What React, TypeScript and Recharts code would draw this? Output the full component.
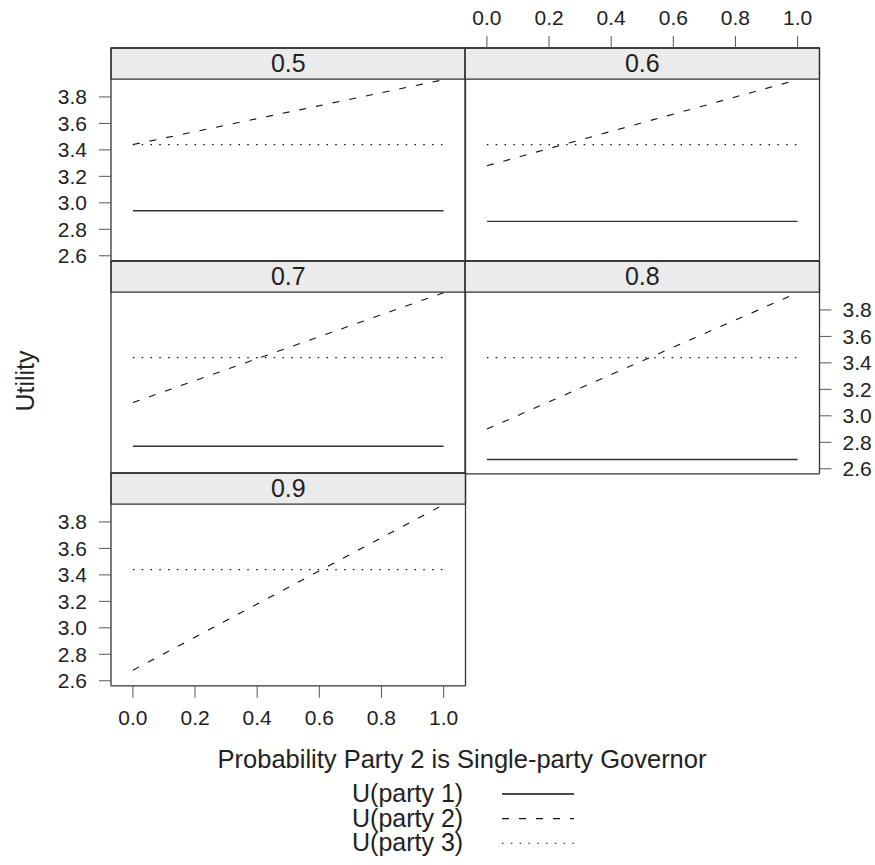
import { LineChart, Line, XAxis, YAxis, ReferenceArea } from "recharts";

// panels (conditioning variable), x range and series values
const panelLabels = ["0.5", "0.6", "0.7", "0.8", "0.9"];
const xValues = [0, 1];
const party1 = [2.94, 2.86, 2.77, 2.67, 2.55];
const party2Start = [3.44, 3.28, 3.1, 2.9, 2.68];
const party2End = [3.93, 3.93, 3.93, 3.93, 3.93];
const party3 = [3.44, 3.44, 3.44, 3.44, 3.44];
const xTicks = [0, 0.2, 0.4, 0.6, 0.8, 1.0];
const yTicks = [2.6, 2.8, 3.0, 3.2, 3.4, 3.6, 3.8];
const seriesNames = ["U(party 1)", "U(party 2)", "U(party 3)"];

const FONT = "'Liberation Sans', Arial, Helvetica, sans-serif";
const INK = "#222";
const FRAME = "#333";
const TICK = "#555";

// layout
const COL_X = [110.7, 465];
const ROW_Y = [47.7, 260.5, 473.3];
const PW = 354.5;
const STRIP_H = 31.2;
const PANEL_H = 181.6;
const AX = 60;

const X_DOMAIN: [number, number] = [-0.0705, 1.0705];
const Y_LO = 2.562;
const Y_HI = 3.934;
const Y_STRIP = Y_HI + ((Y_HI - Y_LO) * STRIP_H) / PANEL_H;

const DASH = "7 10";
const DOT = "1.5 7.3";

type Mode = "label" | "tick" | "none";
type PanelAxes = { left: Mode; right: Mode; top: Mode; bottom: Mode };

const layout: { row: number; col: number; axes: PanelAxes }[] = [
  { row: 0, col: 0, axes: { left: "label", right: "none", top: "tick", bottom: "none" } },
  { row: 0, col: 1, axes: { left: "none", right: "tick", top: "label", bottom: "none" } },
  { row: 1, col: 0, axes: { left: "tick", right: "none", top: "none", bottom: "none" } },
  { row: 1, col: 1, axes: { left: "none", right: "label", top: "none", bottom: "none" } },
  { row: 2, col: 0, axes: { left: "label", right: "tick", top: "none", bottom: "label" } },
];

const TICK_FS = 21;

function TickLabel(props: any) {
  const { x, y, payload, textAnchor, verticalAnchor } = props;
  const dy = verticalAnchor === "start" ? "0.72em" : verticalAnchor === "middle" ? "0.36em" : "0";
  return (
    <text x={x} y={y} dy={dy} textAnchor={textAnchor} fontSize={TICK_FS} fill={INK} fontFamily={FONT}>
      {Number(payload.value).toFixed(1)}
    </text>
  );
}

function axisProps(mode: Mode) {
  return {
    axisLine: { stroke: FRAME, strokeWidth: 1.3 },
    tickLine: mode === "none" ? false : { stroke: TICK, strokeWidth: 1 },
    tick: mode === "label" ? TickLabel : false,
    tickSize: 12,
    interval: 0 as const,
    allowDataOverflow: true,
  };
}

function Panel({ i }: { i: number }) {
  const { row, col, axes } = layout[i];
  const data = xValues.map((x, k) => ({
    x,
    p1: party1[i],
    p2: k === 0 ? party2Start[i] : party2End[i],
    p3: party3[i],
  }));
  const h = STRIP_H + PANEL_H;
  return (
    <div style={{ position: "absolute", left: COL_X[col] - AX, top: ROW_Y[row] - AX }}>
      <LineChart
        width={PW + 2 * AX}
        height={h + 2 * AX}
        data={data}
        margin={{ top: 0, right: 0, bottom: 0, left: 0 }}
      >
        <XAxis xAxisId="b" orientation="bottom" dataKey="x" type="number" domain={X_DOMAIN}
          ticks={xTicks} height={AX} tickMargin={12} {...axisProps(axes.bottom)} />
        <XAxis xAxisId="t" orientation="top" dataKey="x" type="number" domain={X_DOMAIN}
          ticks={xTicks} height={AX} tickMargin={11} {...axisProps(axes.top)} />
        <YAxis yAxisId="l" orientation="left" type="number" domain={[Y_LO, Y_STRIP]}
          ticks={yTicks} width={AX} tickMargin={12} {...axisProps(axes.left)} />
        <YAxis yAxisId="r" orientation="right" type="number" domain={[Y_LO, Y_STRIP]}
          ticks={yTicks} width={AX} tickMargin={11} {...axisProps(axes.right)} />
        <ReferenceArea
          xAxisId="b"
          yAxisId="l"
          y1={Y_HI}
          y2={Y_STRIP}
          fill="#ebebeb"
          fillOpacity={1}
          stroke={FRAME}
          strokeWidth={1.3}
          label={{ value: panelLabels[i], position: "center", fontSize: 25, fill: INK, fontFamily: FONT }}
        />
        <Line xAxisId="b" yAxisId="l" type="linear" dataKey="p1" stroke="#333" strokeWidth={1.4}
          dot={false} isAnimationActive={false} />
        <Line xAxisId="b" yAxisId="l" type="linear" dataKey="p2" stroke="#111" strokeWidth={1.1}
          strokeDasharray={DASH} dot={false} isAnimationActive={false} />
        <Line xAxisId="b" yAxisId="l" type="linear" dataKey="p3" stroke="#111" strokeWidth={1.1}
          strokeDasharray={DOT} dot={false} isAnimationActive={false} />
      </LineChart>
    </div>
  );
}

const legendDash = ["", DASH, DOT];
const legendWidth = [1.4, 1.1, 1.1];

export default function App() {
  return (
    <div style={{ position: "relative", width: 875, height: 865, fontFamily: FONT, background: "#fff" }}>
      <style>{"body{margin:0}"}</style>
      {panelLabels.map((_, i) => (
        <Panel key={i} i={i} />
      ))}
      <svg width={875} height={865} style={{ position: "absolute", left: 0, top: 0, pointerEvents: "none" }}>
        <text x={25} y={381} transform="rotate(-90 25 381)" textAnchor="middle" dominantBaseline="central"
          fontSize={25} fill={INK} fontFamily={FONT}>
          Utility
        </text>
        <text x={462} y={768} textAnchor="middle" fontSize={25.5} fill={INK} fontFamily={FONT}>
          Probability Party 2 is Single-party Governor
        </text>
        {seriesNames.map((name, k) => {
          const y = 794 + k * 24.6;
          return (
            <g key={name}>
              <text x={352} y={y + 8} fontSize={25} fill={INK} fontFamily={FONT}>
                {name}
              </text>
              <line x1={502} x2={574} y1={y} y2={y} stroke="#111" strokeWidth={legendWidth[k]}
                strokeDasharray={legendDash[k] || undefined} />
            </g>
          );
        })}
      </svg>
    </div>
  );
}
